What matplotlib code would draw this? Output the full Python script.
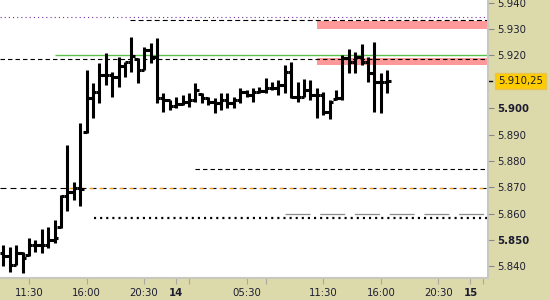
import matplotlib
matplotlib.use('Agg')
import matplotlib.pyplot as plt
import matplotlib.transforms as mtrans

plt.rcParams['font.family'] = 'DejaVu Sans'
plt.rcParams['lines.scale_dashes'] = False

# 30 minute OHLC bars
opens = [5.8450, 5.8440, 5.8406, 5.8451, 5.8445, 5.8481, 5.8481, 5.8481, 5.8500, 5.8550,
         5.8667, 5.8682, 5.8697, 5.8910, 5.9039, 5.9061, 5.9126, 5.9126, 5.9118, 5.9160,
         5.9175, 5.9185, 5.9145, 5.9221, 5.9194, 5.9039, 5.9031, 5.9008, 5.9016, 5.9023,
         5.9031, 5.9055, 5.9039, 5.9023, 5.9020, 5.9031, 5.9020, 5.9031, 5.9061, 5.9050,
         5.9061, 5.9065, 5.9076, 5.9076, 5.9088, 5.9137, 5.9042, 5.9042, 5.9069, 5.9050,
         5.9050, 5.8986, 5.9035, 5.9039, 5.9190, 5.9175, 5.9194, 5.9175, 5.9133, 5.9099,
         5.9099]
highs = [5.8481, 5.8474, 5.8481, 5.8455, 5.8508, 5.8500, 5.8542, 5.8550, 5.8576, 5.8671,
         5.8860, 5.8720, 5.8944, 5.9145, 5.9095, 5.9171, 5.9209, 5.9137, 5.9194, 5.9175,
         5.9270, 5.9190, 5.9232, 5.9247, 5.9266, 5.9058, 5.9031, 5.9042, 5.9050, 5.9058,
         5.9095, 5.9058, 5.9042, 5.9039, 5.9058, 5.9058, 5.9042, 5.9076, 5.9069, 5.9076,
         5.9080, 5.9114, 5.9099, 5.9107, 5.9164, 5.9175, 5.9099, 5.9111, 5.9107, 5.9076,
         5.9061, 5.9031, 5.9069, 5.9202, 5.9224, 5.9213, 5.9243, 5.9194, 5.9251, 5.9133,
         5.9145]
lows = [5.8402, 5.8379, 5.8406, 5.8375, 5.8440, 5.8455, 5.8451, 5.8470, 5.8489, 5.8546,
        5.8610, 5.8652, 5.8629, 5.8906, 5.8963, 5.9020, 5.9088, 5.9042, 5.9080, 5.9118,
        5.9137, 5.9095, 5.9145, 5.9171, 5.9020, 5.8986, 5.8993, 5.9001, 5.9012, 5.9004,
        5.9023, 5.9020, 5.9012, 5.8982, 5.8993, 5.9001, 5.9001, 5.9020, 5.9042, 5.9023,
        5.9058, 5.9058, 5.9069, 5.9050, 5.9058, 5.9039, 5.9023, 5.9042, 5.9031, 5.8963,
        5.8974, 5.8959, 5.9031, 5.9031, 5.9133, 5.9133, 5.9164, 5.9099, 5.8986, 5.8982,
        5.9058]
closes = [5.8440, 5.8406, 5.8451, 5.8432, 5.8481, 5.8481, 5.8481, 5.8500, 5.8508, 5.8667,
          5.8682, 5.8697, 5.8694, 5.9039, 5.9061, 5.9126, 5.9126, 5.9118, 5.9160, 5.9175,
          5.9198, 5.9145, 5.9221, 5.9194, 5.9039, 5.9031, 5.9008, 5.9016, 5.9023, 5.9031,
          5.9069, 5.9039, 5.9023, 5.9020, 5.9031, 5.9020, 5.9031, 5.9061, 5.9050, 5.9061,
          5.9065, 5.9076, 5.9076, 5.9088, 5.9137, 5.9042, 5.9042, 5.9069, 5.9050, 5.9050,
          5.8986, 5.9023, 5.9039, 5.9190, 5.9175, 5.9194, 5.9175, 5.9133, 5.9099, 5.9099,
          5.91025]
last_price = 5.91025
last_label = '5.910,25'

# x axis (bar index) ticks
tick_idx = [4, 13, 22, 27, 29, 38, 41, 50, 59, 68, 73, 75]
tick_txt = ['11:30', '16:00', '20:30', '14', '', '05:30', '', '11:30', '16:00', '20:30', '15', '']
bold_x = ['14', '15']
ytick_vals = [5.940, 5.930, 5.920, 5.900, 5.890, 5.880, 5.870, 5.860, 5.850, 5.840]
bold_y = [5.900, 5.850]

# horizontal levels drawn on the chart
zone_hi = [(5.9300, 5.9330), (5.9164, 5.9191)]
zone_start = 49
purple_level = 5.9347
dash_top = 5.9334
dash_top_start = 19.8
green_level = 5.9202
green_start = 8.1
dash_mid = 5.9185
dash_low = 5.8769
dash_low_start = 29.9
orange_level = 5.8697
orange_start = 9.6
gray_level = 5.8599
gray_start = 44
dot_level = 5.8585
dot_start = 14.2

beige = '#dcdaab'
fig = plt.figure(figsize=(5.5, 3), dpi=100, facecolor=beige)
ax = fig.add_axes([0, 22 / 300, 487.5 / 550, 278 / 300])
ax.set_facecolor('white')
xmin, xmax = -0.52, 75.66
ax.set_xlim(xmin, xmax)
ax.set_ylim(5.8356, 5.9410)

for lo, hi in zone_hi:
    ax.fill_between([zone_start, xmax], lo, hi, color='#ff9898', lw=0, zorder=1)

ax.hlines(purple_level, xmin, xmax, color='#7030a0', lw=0.8, linestyles=[(0, (0.8, 2.2))], zorder=2)
ax.hlines(dash_top, dash_top_start, xmax, color='black', lw=0.8, linestyles=[(0, (3.6, 2.2))], zorder=2)
ax.hlines(green_level, green_start, xmax, color='#5cbf4c', lw=1.0, zorder=2)
ax.hlines(dash_mid, xmin, xmax, color='black', lw=0.8, linestyles=[(0, (3.2, 2.2))], zorder=2)
ax.hlines(dash_low, dash_low_start, xmax, color='black', lw=0.8, linestyles=[(0, (3.2, 2.2))], zorder=2)
ax.hlines(orange_level, xmin, xmax, color='black', lw=0.8, linestyles=[(0, (4.3, 2.9))], zorder=2)
ax.hlines(orange_level, orange_start, xmax, color='#f0a020', lw=1.0, linestyles=[(4.3, (2.9, 4.3))], zorder=2)
ax.hlines(gray_level, gray_start, xmax, color='#8c8c8c', lw=0.9, linestyles=[(0, (18, 7))], zorder=2)
ax.hlines(dot_level, dot_start, xmax, color='black', lw=1.6, linestyles=[(0, (1.5, 2.9))], zorder=2)

idx = list(range(len(closes)))
ax.vlines(idx, lows, highs, color='black', lw=2.2, zorder=3)
ax.hlines(opens, [i - 0.55 for i in idx], idx, color='black', lw=2.2, zorder=3)
ax.hlines(closes, idx, [i + 0.55 for i in idx], color='black', lw=2.2, zorder=3)

for s in ['top', 'left']:
    ax.spines[s].set_visible(False)
for s in ['right', 'bottom']:
    ax.spines[s].set_color('#c8c8c0')
    ax.spines[s].set_linewidth(1.5)

ax.yaxis.tick_right()
ax.set_yticks(ytick_vals, [f'{v:.3f}' for v in ytick_vals])
for lab, v in zip(ax.get_yticklabels(), ytick_vals):
    if v in bold_y:
        lab.set_fontweight('bold')
ax.tick_params(axis='y', length=4, width=0.8, color='#888888', pad=3,
               labelsize=7.3, labelcolor='#1c1c30')
ax.set_xticks(tick_idx, tick_txt)
for lab in ax.get_xticklabels():
    if lab.get_text() in bold_x:
        lab.set_fontweight('bold')
ax.tick_params(axis='x', length=4, width=0.8, color='#a8a8a0', pad=3,
               labelsize=7.3, labelcolor='#1c1c30')

# last price marker
tr = mtrans.blended_transform_factory(ax.transAxes, ax.transData)
ax.plot([1.002, 1.009], [last_price, last_price], color='black', lw=1, transform=tr, clip_on=False)
ax.text(1.022, last_price, last_label, transform=tr, va='center', ha='left', fontsize=7.3,
        color='#1c1c30', clip_on=False,
        bbox=dict(boxstyle='square,pad=0.3', fc='#ffcc00', ec='#e8c35a', lw=1))

fig.savefig('out.png', dpi=100, facecolor=beige)
